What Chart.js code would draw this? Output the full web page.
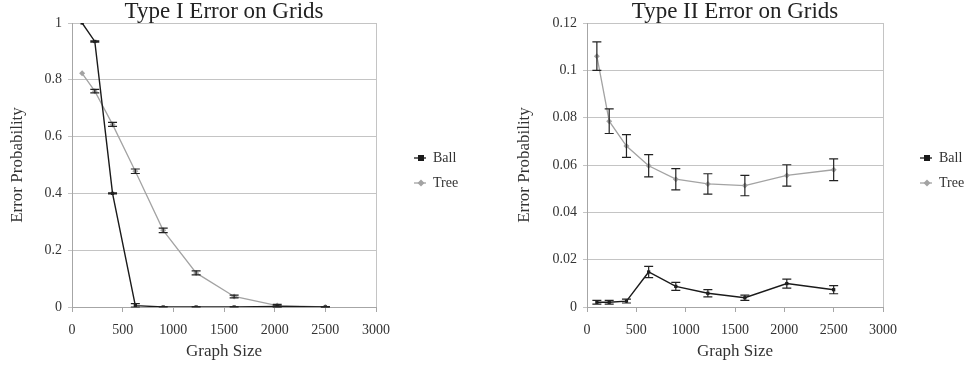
<!DOCTYPE html>
<html>
<head>
<meta charset="utf-8">
<script src="https://cdn.jsdelivr.net/npm/chart.js@4/dist/chart.umd.min.js"></script>
<style>
  html, body { margin: 0; padding: 0; background: #fff; }
  #wrap { position: relative; width: 967px; height: 367px; }
  #c1 { position: absolute; left: 0; top: 0; }
  #c2 { position: absolute; left: 480px; top: 0; }
</style>
</head>
<body>
<div id="wrap">
  <canvas id="c1" width="480" height="367"></canvas>
  <canvas id="c2" width="487" height="367"></canvas>
</div>
<script>
// Graph sizes (grid side 10..50, squared)
const graphSizes = [100, 225, 400, 625, 900, 1225, 1600, 2025, 2500];
const xTicks = [0, 500, 1000, 1500, 2000, 2500, 3000];

// Type I error
const ballType1 = [1.0, 0.935, 0.40, 0.005, 0.0, 0.0, 0.0, 0.002, 0.0];
const ballType1Err = [0, 0.002, 0.002, 0.007, 0.001, 0.001, 0.001, 0.002, 0.001];
const treeType1 = [0.823, 0.76, 0.643, 0.478, 0.27, 0.12, 0.037, 0.005, 0.0];
const treeType1Err = [0, 0.006, 0.007, 0.008, 0.008, 0.007, 0.005, 0.004, 0.001];

// Type II error
const ballType2 = [0.002, 0.002, 0.0025, 0.0148, 0.0087, 0.0058, 0.0039, 0.0099, 0.0073];
const ballType2Err = [0.0008, 0.0008, 0.0008, 0.0024, 0.0017, 0.0015, 0.0011, 0.0019, 0.0017];
const treeType2 = [0.106, 0.0785, 0.068, 0.0597, 0.054, 0.052, 0.0513, 0.0556, 0.058];
const treeType2Err = [0.006, 0.0052, 0.0048, 0.0047, 0.0045, 0.0043, 0.0043, 0.0045, 0.0046];

const FONT = "'Liberation Serif', 'DejaVu Serif', serif";
const TEXT = "#333";
const GRID = "#c4c4c4";
const AXIS = "#a6a6a6";
const BALL = "#1a1a1a";
const TREE = "#a3a3a3";

function pts(ys) { return graphSizes.map((x, i) => ({ x: x, y: ys[i] })); }

// small legend icon: short line with the series marker on it
function legendIcon(color, shape) {
    const c = document.createElement("canvas");
    c.width = 12; c.height = 8;
    const g = c.getContext("2d");
    g.strokeStyle = color; g.lineWidth = 1.3;
    g.beginPath(); g.moveTo(0, 4); g.lineTo(12, 4); g.stroke();
    g.fillStyle = color;
    if (shape === "rect") { g.fillRect(4, 1, 6, 6); }
    else { g.beginPath(); g.moveTo(7, 0.5); g.lineTo(10.5, 4); g.lineTo(7, 7.5); g.lineTo(3.5, 4); g.closePath(); g.fill(); }
    return c;
}

// vertical error bars with caps, drawn through the chart's own scales
const errorBars = {
    id: "errorBars",
    afterDatasetsDraw(chart) {
        const ctx = chart.ctx, xs = chart.scales.x, ys = chart.scales.y;
        chart.data.datasets.forEach(ds => {
            if (!ds.errors) return;
            ctx.save();
            ctx.strokeStyle = "#222";
            ctx.lineWidth = 1.2;
            ds.data.forEach((p, i) => {
                const e = ds.errors[i];
                if (!e) return;
                const px = xs.getPixelForValue(p.x);
                const top = ys.getPixelForValue(p.y + e);
                const bot = ys.getPixelForValue(Math.max(0, p.y - e));
                ctx.beginPath();
                ctx.moveTo(px, top); ctx.lineTo(px, bot);
                ctx.moveTo(px - 4.5, top); ctx.lineTo(px + 4.5, top);
                ctx.moveTo(px - 4.5, bot); ctx.lineTo(px + 4.5, bot);
                ctx.stroke();
            });
            ctx.restore();
        });
    }
};

// keep the legend a fixed width and park it where the original has it
const legendPlace = {
    id: "legendPlace",
    beforeLayout(chart, args, opts) {
        const lg = chart.legend;
        if (lg && !lg._fixedFit) {
            const fit = lg.fit;
            lg.fit = function () { fit.call(this); this.width = opts.width; };
            lg._fixedFit = true;
        }
    },
    afterLayout(chart, args, opts) {
        const lg = chart.legend;
        if (!lg) return;
        lg.left = opts.x; lg.right = opts.x + 80;
        lg.top = opts.y; lg.bottom = opts.y + 100;
    }
};

function fmtY(v) { return String(parseFloat(Number(v).toFixed(3))); }

function makeChart(id, title, ball, ballErr, tree, treeErr, yMax, yStep, yWidth, legendX, legendWidth, yTitlePad) {
    return new Chart(document.getElementById(id), {
        type: "line",
        data: {
            datasets: [
                {
                    label: "Ball", data: pts(ball), errors: ballErr,
                    borderColor: BALL, backgroundColor: BALL, borderWidth: 1.4,
                    pointStyle: "rect", pointRadius: 2.3, pointBorderWidth: 0, tension: 0
                },
                {
                    label: "Tree", data: pts(tree), errors: treeErr,
                    borderColor: TREE, backgroundColor: TREE, borderWidth: 1.3,
                    pointStyle: "rectRot", pointRadius: 3, pointBorderWidth: 0, tension: 0
                }
            ]
        },
        options: {
            responsive: false, animation: false,
            layout: { padding: 0 },
            plugins: {
                title: {
                    display: true, text: title, color: "#222", fullSize: false,
                    font: { family: FONT, size: 23, weight: "normal", lineHeight: 1 },
                    padding: { top: 0, bottom: 0 }
                },
                legend: {
                    position: "right", align: "start", fullSize: false,
                    labels: {
                        color: TEXT, usePointStyle: true, pointStyleWidth: 12, boxHeight: 8, padding: 11,
                        font: { family: FONT, size: 14 },
                        generateLabels(chart) {
                            return chart.data.datasets.map((ds, i) => ({
                                text: ds.label, fillStyle: ds.borderColor, strokeStyle: ds.borderColor,
                                lineWidth: 0, fontColor: TEXT, datasetIndex: i, hidden: false,
                                pointStyle: legendIcon(ds.borderColor, i === 0 ? "rect" : "diamond")
                            }));
                        }
                    }
                },
                legendPlace: { width: legendWidth, x: legendX, y: 140 },
                tooltip: { enabled: false }
            },
            scales: {
                x: {
                    type: "linear", min: 0, max: 3000,
                    afterBuildTicks(s) { s.ticks = xTicks.map(v => ({ value: v })); },
                    afterFit(s) { s.height = 60; },
                    ticks: { color: TEXT, font: { family: FONT, size: 14 }, padding: 10, callback: v => String(v) },
                    grid: {
                        color: c => (c.tick && c.tick.value === 3000 ? GRID : "rgba(0,0,0,0)"),
                        tickColor: AXIS, tickLength: 5, drawOnChartArea: true
                    },
                    border: { color: AXIS },
                    title: {
                        display: true, text: "Graph Size", color: TEXT,
                        font: { family: FONT, size: 17 }, padding: { top: 0, bottom: 5 }
                    }
                },
                y: {
                    min: 0, max: yMax,
                    ticks: { stepSize: yStep, color: TEXT, font: { family: FONT, size: 14 }, padding: 6, callback: fmtY },
                    afterFit(s) { s.width = yWidth; },
                    grid: { color: GRID, tickColor: GRID, tickLength: 4 },
                    border: { color: AXIS },
                    title: {
                        display: true, text: "Error Probability", color: TEXT,
                        font: { family: FONT, size: 17 }, padding: { top: yTitlePad, bottom: 0 }
                    }
                }
            }
        },
        plugins: [errorBars, legendPlace]
    });
}

makeChart("c1", "Type I Error on Grids", ballType1, ballType1Err, treeType1, treeType1Err,
    1, 0.2, 72, 403, 104, 7);
makeChart("c2", "Type II Error on Grids", ballType2, ballType2Err, treeType2, treeType2Err,
    0.12, 0.02, 107, 429, 84, 34);
</script>
</body>
</html>
